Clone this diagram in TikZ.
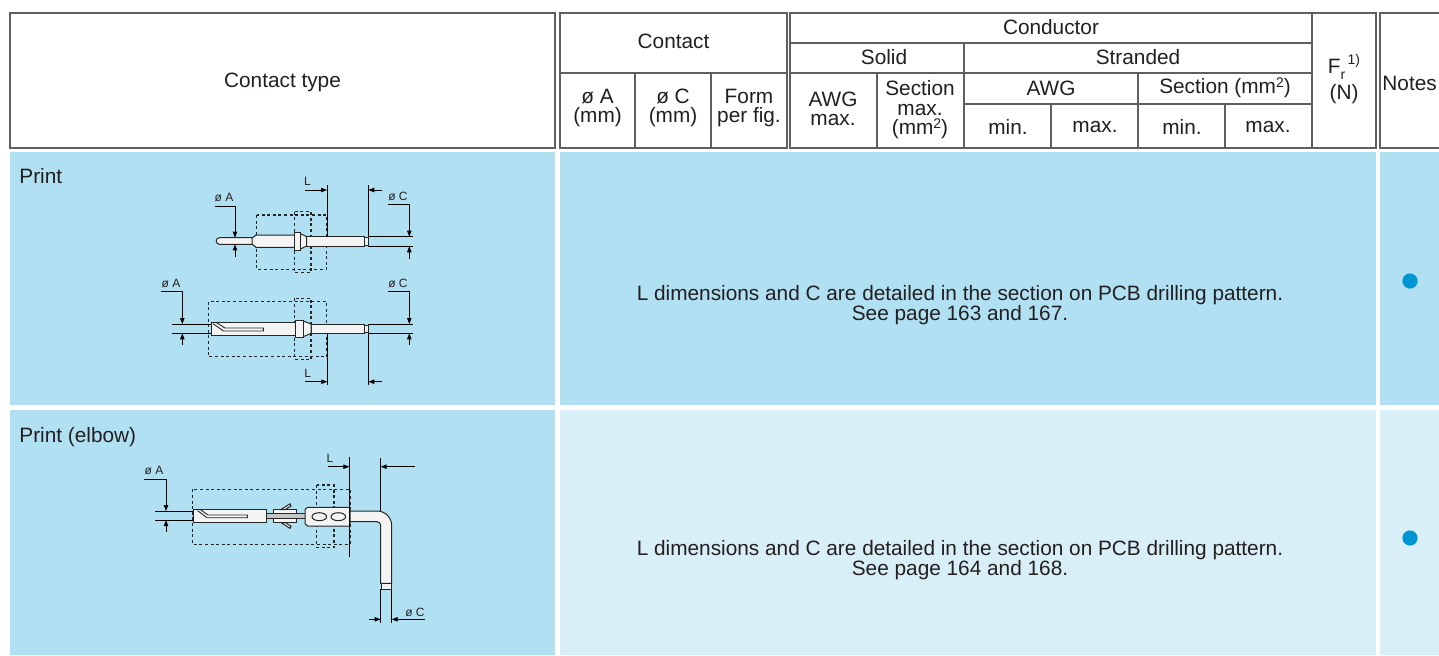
\documentclass[tikz,border=0pt]{standalone}
\usepackage{fontspec}
\setmainfont{Liberation Sans}
\usetikzlibrary{arrows.meta}
\definecolor{rowblue}{RGB}{177,224,242}
\definecolor{rowlight}{RGB}{217,239,248}
\definecolor{dotblue}{RGB}{0,150,214}
\definecolor{hline}{RGB}{95,95,95}
\definecolor{ink}{RGB}{35,31,32}
\definecolor{partfill}{RGB}{244,244,244}
\newcommand\mysqii{\raisebox{0.55ex}{\fontsize{7}{7}\selectfont 2}}
\begin{document}
\begin{tikzpicture}[x=0.5pt,y=-0.5pt,
  hdr/.style={draw=hline, line width=0.75pt},
  ht/.style={font=\fontsize{10.4}{9.8}\selectfont, text=ink, align=center, inner sep=0pt},
  lbl/.style={font=\fontsize{6}{7}\selectfont, inner sep=0pt, text=ink},
  part/.style={draw=black!85, fill=partfill, line width=0.5pt},
  dim/.style={draw=black, line width=0.4pt},
  arr/.style={-{Triangle[length=3pt,width=2.2pt]}},
  dsh/.style={draw=black!85, line width=0.6pt, dash pattern=on 1.5pt off 1.3pt}]
\useasboundingbox (0,0) rectangle (1439,655);
\fill[white] (0,0) rectangle (1439,655);

% ---------- header ----------
\draw[hdr] (10,13) rectangle (555,148);
\draw[hdr] (560,13) rectangle (787,148);
\draw[hdr] (560,73) -- (787,73) (635,73) -- (635,148) (711,73) -- (711,148);
\draw[hdr] (790,13) rectangle (1376,148);
\draw[hdr] (790,43) -- (1312,43) (790,73) -- (1312,73) (1312,13) -- (1312,148)
  (964,43) -- (964,148) (877,73) -- (877,148) (964,104) -- (1312,104)
  (1138,73) -- (1138,148) (1051,104) -- (1051,148) (1225,104) -- (1225,148);
\draw[hdr] (1439,13) -- (1380,13) -- (1380,148) -- (1439,148);

\node[ht] (hct) at (282.5,82) {Contact type};
\node[ht] (hc) at (673.5,41) {Contact};
\node[ht] (ha) at (597.5,108) {ø A\\(mm)};
\node[ht] (hcc) at (673,108) {ø C\\(mm)};
\node[ht] (hf) at (749,108) {Form\\per fig.};
\node[ht] (hcond) at (1051,27) {Conductor};
\node[ht] (hsol) at (884,57) {Solid};
\node[ht] (hstr) at (1138,57) {Stranded};
\node[ht] (hawgm) at (833,109) {AWG\\max.};
\node[ht] (hsecm) at (920,110) {Section\\max.\\(mm\mysqii)};
\node[ht] (hawg) at (1051,88) {AWG};
\node[ht] (hsec) at (1225,88) {Section (mm\mysqii)};
\node[ht] (h1) at (1008,127) {min.};
\node[ht] (h2) at (1095,127) {max.};
\node[ht] (h3) at (1182,127) {min.};
\node[ht] (h4) at (1268,127) {max.};
\node[ht] (hfr) at (1344,79) {F\raisebox{-0.55ex}{\fontsize{7}{7}\selectfont r}\raisebox{0.85ex}{\fontsize{7}{7}\selectfont\,1)}\\[1.5pt](N)};
\node[ht, anchor=west] (hn) at (1382,83) {Notes};

% ---------- body cells ----------
\fill[rowblue] (10,152) rectangle (555,405);
\fill[rowblue] (560,152) rectangle (1376,405);
\fill[rowblue] (1380,152) rectangle (1439,405);
\fill[rowblue] (10,410) rectangle (555,655);
\fill[rowlight] (560,410) rectangle (1376,655);
\fill[rowlight] (1380,410) rectangle (1439,655);

\node[ht, anchor=west] (t1) at (19,176) {Print};
\node[ht, anchor=west] (t2) at (19,437) {Print (elbow)};
\node[ht] (m1) at (960,305) {L dimensions and C are detailed in the section on PCB drilling pattern.\\See page 163 and 167.};
\node[ht] (m2) at (960,560) {L dimensions and C are detailed in the section on PCB drilling pattern.\\See page 164 and 168.};
\fill[dotblue] (1410,281) circle[radius=7.6];
\fill[dotblue] (1410,538) circle[radius=7.6];

% ---------- figure 1 ----------
\draw[dsh] (256.7,215) rectangle (326.7,269.3);
\draw[dsh] (294.3,211.7) rectangle (311,272.3);
\draw[part] (253,237.7) -- (219.5,237.7) arc[start angle=270,end angle=90,radius=3.3] -- (253,244.3) -- cycle;
\draw[part] (252,238) -- (256,235) -- (295,235) -- (295,247.3) -- (256,247.3) -- (252,244) -- cycle;
\draw[part] (306.7,236.7) rectangle (364,246);
\draw[part] (364,237.8) rectangle (368.3,245);
\draw[part] (300,233.5) -- (306.7,236.7) -- (306.7,246) -- (300,249.2) -- cycle;
\draw[part] (294.3,232.7) rectangle (300,250);
% dims
\draw[dim] (327,185) -- (327,236.7);
\draw[dim,arr] (305,190) -- (327,190);
\node[lbl] (l1) at (307.5,181) {L};
\draw[dim] (368.3,185) -- (368.3,237.8);
\draw[dim,arr] (382,190) -- (368.3,190);
\draw[dim] (368.3,236.7) -- (413,236.7) (368.3,246.3) -- (413,246.3);
\node[lbl] (c1) at (398,196) {ø C};
\draw[dim,arr] (388,204.3) -- (409.3,204.3) -- (409.3,236.7);
\draw[dim,arr] (409.3,259) -- (409.3,246.3);
\node[lbl] (a1) at (224,197.7) {ø A};
\draw[dim,arr] (215,206.7) -- (235,206.7) -- (235,237.7);
\draw[dim,arr] (235,256.7) -- (235,244.3);

% ---------- figure 2 ----------
\draw[dsh] (208.3,301.7) rectangle (326.7,356.7);
\draw[dsh] (294.3,298.3) rectangle (311,359.3);
\draw[part] (211,322.3) rectangle (295,335.7);
\draw[draw=black!85, line width=0.45pt] (216,322.3) -- (225,328) -- (263.3,328) -- (263.3,331) -- (223.5,331) -- (213,323.6);
\draw[part] (311,324) rectangle (364,333.3);
\draw[part] (364,325) rectangle (368.3,332.3);
\draw[part] (303.3,321) -- (311,324) -- (311,333.3) -- (303.3,336.7) -- cycle;
\draw[part] (295,320) rectangle (303.3,337.7);
% dims
\node[lbl] (a2) at (171,283.3) {ø A};
\draw[dim,arr] (160.7,291.7) -- (182.3,291.7) -- (182.3,324);
\draw[dim,arr] (182.3,345) -- (182.3,333.3);
\draw[dim] (171.7,324) -- (211,324) (171.7,333.3) -- (211,333.3);
\draw[dim] (327.3,333.3) -- (327.3,385);
\draw[dim,arr] (305,381.7) -- (327.3,381.7);
\node[lbl] (l2) at (307.7,373.3) {L};
\draw[dim] (368.3,332.3) -- (368.3,385);
\draw[dim,arr] (382,381.7) -- (368.3,381.7);
\draw[dim] (368.3,324) -- (413,324) (368.3,333.3) -- (413,333.3);
\node[lbl] (c2) at (398,283.3) {ø C};
\draw[dim,arr] (388.3,291.7) -- (409.3,291.7) -- (409.3,324);
\draw[dim,arr] (409.3,345) -- (409.3,333.3);

% ---------- figure 3 (elbow) ----------
\draw[dsh] (192.7,489.3) rectangle (350,544.3);
\draw[dsh] (316.7,485) rectangle (334,547.3);
\draw[dim] (380.7,458.3) -- (380.7,512);
\draw[part] (193.3,509.3) rectangle (266.7,522.3);
\draw[draw=black!85, line width=0.45pt] (200,509.3) -- (208,515) -- (247.3,515) -- (247.3,517.7) -- (207,517.7) -- (197.5,510.6);
\draw[part, fill=gray!45] (266.7,513.5) rectangle (305,518.5);
\draw[part] (273,509.5) rectangle (296,513.5);
\draw[part] (273,518.5) rectangle (296,522.5);
\draw[part] (281,509.5) .. controls (285,506.5) .. (290,503.8) -- (291,506) .. controls (287,508.3) .. (285.5,509.5) -- cycle;
\draw[part] (281,522.5) .. controls (285,525.5) .. (290,528.4) -- (291,526.2) .. controls (287,523.8) .. (285.5,522.5) -- cycle;
\draw[part] (305,509.5) -- (307.5,507.3) -- (350,507.3) -- (350,526) -- (307.5,526) -- (305,523.8) -- cycle;
\draw[draw=black!85, line width=0.5pt] (319.3,516.7) ellipse[x radius=7.3, y radius=4];
\draw[draw=black!85, line width=0.5pt] (338.3,516.7) ellipse[x radius=7.3, y radius=4];
\draw[part] (350,511) -- (377,511) arc[start angle=270,end angle=360,radius=14.7] -- (391.7,583.3) -- (380.7,583.3) -- (380.7,525.4) arc[start angle=0,end angle=-90,radius=3.7] -- (350,521.7) -- cycle;
\draw[part] (381.5,583.3) rectangle (391,589.3);
% dims
\node[lbl] (a3) at (154,470.7) {ø A};
\draw[dim,arr] (144,479) -- (166,479) -- (166,511);
\draw[dim,arr] (166,531.7) -- (166,520);
\draw[dim] (155,511) -- (193.3,511) (155,520) -- (193.3,520);
\draw[dim] (349.3,456.7) -- (349.3,556.7);
\draw[dim,arr] (328.3,466.7) -- (349.3,466.7);
\node[lbl] (l3) at (330,458.3) {L};
\draw[dim,arr] (415,466.7) -- (380.7,466.7);
\draw[dim] (380.7,589.3) -- (380.7,623.3) (391.7,589.3) -- (391.7,623.3);
\draw[dim,arr] (369.3,619.3) -- (380.7,619.3);
\node[lbl] (c3) at (415,612.7) {ø C};
\draw[dim,arr] (425,619.3) -- (391.7,619.3);
\end{tikzpicture}
\end{document}
